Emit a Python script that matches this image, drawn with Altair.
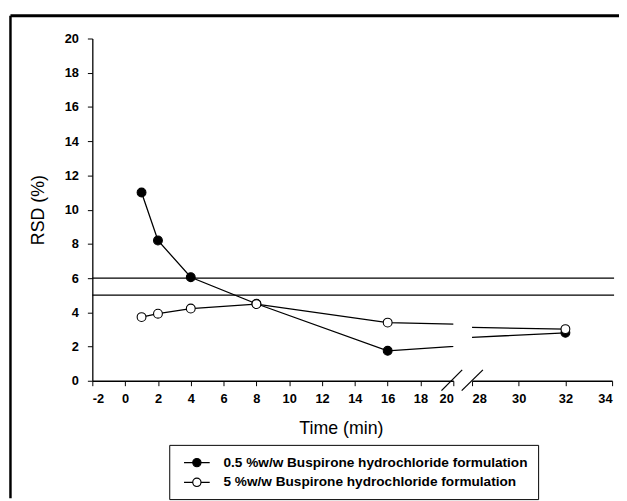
import altair as alt
import pandas as pd

# ---- data ----
time_min = [1, 2, 4, 8, 16, 32]
rsd_low = [11.0, 8.2, 6.05, 4.5, 1.75, 2.8]      # 0.5 %w/w (filled)
rsd_high = [3.72, 3.92, 4.22, 4.48, 3.4, 3.02]   # 5 %w/w (open)
series_names = [
    "0.5 %w/w Buspirone hydrochloride formulation",
    "5 %w/w Buspirone hydrochloride formulation",
]
series_fill = ["black", "white"]
limit_lines = [5, 6]
x_ticks_left = [-2, 0, 2, 4, 6, 8, 10, 12, 14, 16, 18, 20]
x_ticks_right = [28, 30, 32, 34]
y_ticks = [0, 2, 4, 6, 8, 10, 12, 14, 16, 18, 20]

rows = []
for name, vals in zip(series_names, [rsd_low, rsd_high]):
    for t, v in zip(time_min, vals):
        rows.append({"t": t, "rsd": v, "series": name})
df = pd.DataFrame(rows)
limits_df = pd.DataFrame({"limit": limit_lines})
one = pd.DataFrame({"k": [0]})

FONT = "Liberation Sans"
LW, RW, H, GAP = 366, 142, 347, 19

y_scale = alt.Scale(domain=[0, 20], nice=False, zero=False)
axis_common = dict(
    domainColor="black", domainWidth=1.3, tickColor="black", tickWidth=1,
    tickSize=5, labelFont=FONT, labelFontSize=13, labelFontWeight="bold",
    labelColor="black", grid=False,
    labelExpr="replace(datum.label, '\u2212', '-')",
)


def y_enc(field, show):
    if show:
        ax = alt.Axis(values=y_ticks, title="RSD (%)", titleFont=FONT,
                      titleFontSize=18, titleFontWeight="normal",
                      titleColor="black", titleAngle=270, titleX=-55,
                      titleY=H / 2, titleAlign="center",
                      titleBaseline="middle", labelPadding=9, **axis_common)
    else:
        ax = None
    return alt.Y(field, type="quantitative", scale=y_scale, axis=ax)


legend = alt.Legend(
    title=None, orient="none", legendX=78, legendY=412,
    direction="vertical", strokeColor="black", fillColor="white",
    padding=10, symbolType=(
        "M-1.86,0H-0.6M0.6,0H1.86"
        "M-0.6,0A0.6,0.6,0,1,0,0.6,0A0.6,0.6,0,1,0,-0.6,0Z"
    ),
    symbolSize=196, symbolOffset=10, symbolStrokeColor="black",
    symbolStrokeWidth=1.2,
    labelFont=FONT, labelFontSize=13.8, labelFontWeight="bold",
    labelColor="black", labelOffset=19, labelLimit=500, rowPadding=5,
)


def panel(domain, ticks, width, left):
    if left:
        xaxis = alt.Axis(values=ticks, title="Time (min)", titleFont=FONT,
                         titleFontSize=18, titleFontWeight="normal",
                         titleColor="black", titleX=252, titleY=48,
                         titleAlign="center", titleBaseline="middle",
                         labelPadding=7, **axis_common)
    else:
        xaxis = alt.Axis(values=ticks, title=None, labelPadding=7,
                         **axis_common)
    x = alt.X("t:Q", scale=alt.Scale(domain=domain, nice=False, zero=False),
              axis=xaxis)

    lines = alt.Chart(df).mark_line(color="black", strokeWidth=1.3,
                                    clip=True).encode(
        x=x, y=y_enc("rsd", left), detail="series:N", order="t:Q")
    pts = alt.Chart(df).mark_point(filled=True, shape="circle", size=80,
                                   stroke="black", strokeWidth=1.1,
                                   opacity=1, clip=True).encode(
        x=x, y=y_enc("rsd", left),
        fill=alt.Fill("series:N", scale=alt.Scale(domain=series_names,
                                                  range=series_fill),
                      legend=legend))
    layers = []
    if left:
        refs = alt.Chart(limits_df).mark_rule(color="black",
                                              strokeWidth=1.3).encode(
            y=y_enc("limit", True), x=alt.value(0),
            x2=alt.value(LW + GAP + RW + 2))
        frame_top = alt.Chart(one).mark_rule(color="black",
                                             strokeWidth=3).encode(
            x=alt.value(-83), x2=alt.value(534), y=alt.value(-23))
        frame_left = alt.Chart(one).mark_rule(color="black",
                                              strokeWidth=2.5).encode(
            x=alt.value(-83), y=alt.value(-23), y2=alt.value(466))
        slash1 = alt.Chart(one).mark_rule(color="black",
                                          strokeWidth=1.3).encode(
            x=alt.value(354), y=alt.value(357),
            x2=alt.value(375), y2=alt.value(336))
        slash2 = alt.Chart(one).mark_rule(color="black",
                                          strokeWidth=1.3).encode(
            x=alt.value(374.5), y=alt.value(357),
            x2=alt.value(396), y2=alt.value(336))
        layers = [frame_top, frame_left, refs, slash1, slash2]
    return alt.layer(*layers, lines, pts).properties(width=width, height=H)


left = panel([-2, 20], x_ticks_left, LW, True)
right = panel([28, 34], x_ticks_right, RW, False)

chart = alt.HConcatChart(
    hconcat=[left, right], spacing=GAP, bounds="flush",
    padding={"left": 0.5, "top": 2.5, "right": -2, "bottom": 0},
    background="white",
).configure_view(stroke=None)

chart.save("out.html", embed_options={"renderer": "svg", "actions": False})
